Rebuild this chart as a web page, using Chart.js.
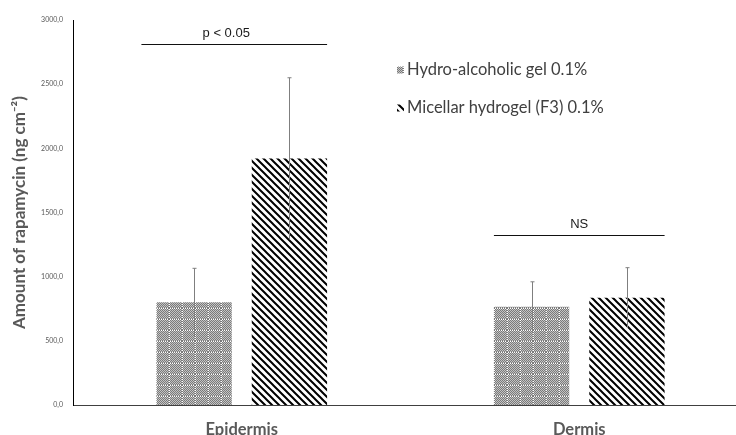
<!DOCTYPE html>
<html>
<head>
<meta charset="utf-8">
<script src="https://cdn.jsdelivr.net/npm/chart.js@4/dist/chart.umd.min.js"></script>
<style>
  html, body { margin: 0; padding: 0; background: #fff; overflow: hidden; }
  #wrap { width: 748px; height: 435px; }
</style>
</head>
<body>
<div id="wrap"><canvas id="graphic"></canvas></div>
<script>
const categories = ['Epidermis', 'Dermis']
const seriesNames = ['Hydro-alcoholic gel 0.1%', 'Micellar hydrogel (F3) 0.1%']
const hydroValues = [800, 765]
const hydroSD = [265, 195]
const micellarValues = [1920, 835]
const micellarSD = [630, 235]
const yMax = 3000
const yStep = 500
const bracketLabels = ['p < 0.05', 'NS']
const bracketLevels = [2810, 1325]

// fill patterns
function checkerPattern() {
  const c = document.createElement('canvas')
  c.width = 13
  c.height = 11
  const g = c.getContext('2d')
  for (let x = 0; x < 13; x++) {
    for (let y = 0; y < 11; y++) {
      g.fillStyle = (x + y) % 2 ? '#c4c4c4' : '#7a7a7a'
      if ((x === 0 || y === 0) && (x + y) % 2) g.fillStyle = '#ffffff'
      g.fillRect(x, y, 1, 1)
    }
  }
  return g.createPattern(c, 'repeat')
}

function stripePattern() {
  const s = 7
  const c = document.createElement('canvas')
  c.width = s
  c.height = s
  const g = c.getContext('2d')
  g.fillStyle = '#fff'
  g.fillRect(0, 0, s, s)
  g.strokeStyle = '#000'
  g.lineWidth = 2
  g.beginPath()
  g.moveTo(-1, -1); g.lineTo(s + 1, s + 1)
  g.moveTo(-s / 2 - 1, s / 2 - 1); g.lineTo(s / 2 + 1, 1.5 * s + 1)
  g.moveTo(s / 2 - 1, -s / 2 - 1); g.lineTo(1.5 * s + 1, s / 2 + 1)
  g.stroke()
  return g.createPattern(c, 'repeat')
}

const patterns = [checkerPattern(), stripePattern()]
const sds = [hydroSD, micellarSD]

const extras = {
  id: 'extras',
  afterDatasetsDraw(chart) {
    const ctx = chart.ctx
    const y = chart.scales.y
    ctx.save()
    // error bars
    chart.data.datasets.forEach((ds, i) => {
      chart.getDatasetMeta(i).data.forEach((bar, j) => {
        const v = ds.data[j]
        const top = y.getPixelForValue(v + sds[i][j])
        const low = y.getPixelForValue(v - sds[i][j])
        const x = Math.round(bar.x) + 0.5
        ctx.strokeStyle = '#7f7f7f'
        ctx.lineWidth = 1
        ctx.beginPath()
        ctx.moveTo(x, top); ctx.lineTo(x, low)
        ctx.moveTo(x - 2, top); ctx.lineTo(x + 2, top)
        ctx.stroke()
      })
    })
    // significance brackets
    bracketLabels.forEach((label, j) => {
      const a = chart.getDatasetMeta(0).data[j]
      const b = chart.getDatasetMeta(1).data[j]
      const left = a.x - a.width / 2 - (j === 0 ? 15 : 0)
      const right = b.x + b.width / 2
      const ly = Math.round(y.getPixelForValue(bracketLevels[j])) + 0.5
      ctx.strokeStyle = '#111'
      ctx.lineWidth = 1.2
      ctx.beginPath()
      ctx.moveTo(left, ly); ctx.lineTo(right, ly)
      ctx.stroke()
      ctx.fillStyle = '#1a1a1a'
      ctx.font = '13px "Liberation Sans", Arial, sans-serif'
      ctx.textAlign = 'center'
      ctx.textBaseline = 'alphabetic'
      ctx.fillText(label, (left + right) / 2 - (j === 0 ? 8 : 0), ly - 8)
    })
    // legend
    seriesNames.forEach((name, i) => {
      const lx = 397
      const ly = 70 + i * 38
      ctx.fillStyle = patterns[i]
      ctx.fillRect(lx, ly - 3.5, 7, 7)
      ctx.fillStyle = '#404040'
      ctx.font = '16.5px Lato, "Noto Sans", sans-serif'
      ctx.textAlign = 'left'
      ctx.textBaseline = 'middle'
      ctx.fillText(name, lx + 10, ly)
    })
    ctx.restore()
  }
}

new Chart(document.querySelector('#graphic').getContext('2d'), {
  type: 'bar',
  data: {
    labels: categories,
    datasets: [
      { label: seriesNames[0], data: hydroValues, backgroundColor: patterns[0] },
      { label: seriesNames[1], data: micellarValues, backgroundColor: patterns[1] }
    ]
  },
  options: {
    responsive: true,
    maintainAspectRatio: false,
    animation: false,
    layout: { padding: { top: 20, right: 0, left: 0, bottom: 0 } },
    datasets: { bar: { categoryPercentage: 0.565, barPercentage: 0.79 } },
    plugins: { legend: { display: false }, tooltip: { enabled: false } },
    scales: {
      x: {
        grid: { display: false, drawTicks: false },
        border: { color: '#404040', width: 1 },
        ticks: {
          color: '#595959',
          padding: 15,
          font: { family: 'Lato', size: 16.5, weight: 'bold' }
        },
        afterFit: (s) => { s.height = 30 }
      },
      y: {
        min: 0,
        max: yMax,
        grid: { display: false, drawTicks: false },
        border: { color: '#000', width: 1 },
        ticks: {
          stepSize: yStep,
          color: '#595959',
          padding: 10,
          font: { family: 'Lato', size: 7 },
          callback: (v) => v.toFixed(1).replace('.', ',')
        },
        title: {
          display: true,
          text: 'Amount of rapamycin (ng cm⁻²)',
          color: '#595959',
          padding: { top: 9, bottom: 0 },
          font: { family: 'Lato', size: 17, weight: 'bold' }
        },
        afterFit: (s) => { s.width = 73 }
      }
    }
  },
  plugins: [extras]
})
</script>
</body>
</html>
